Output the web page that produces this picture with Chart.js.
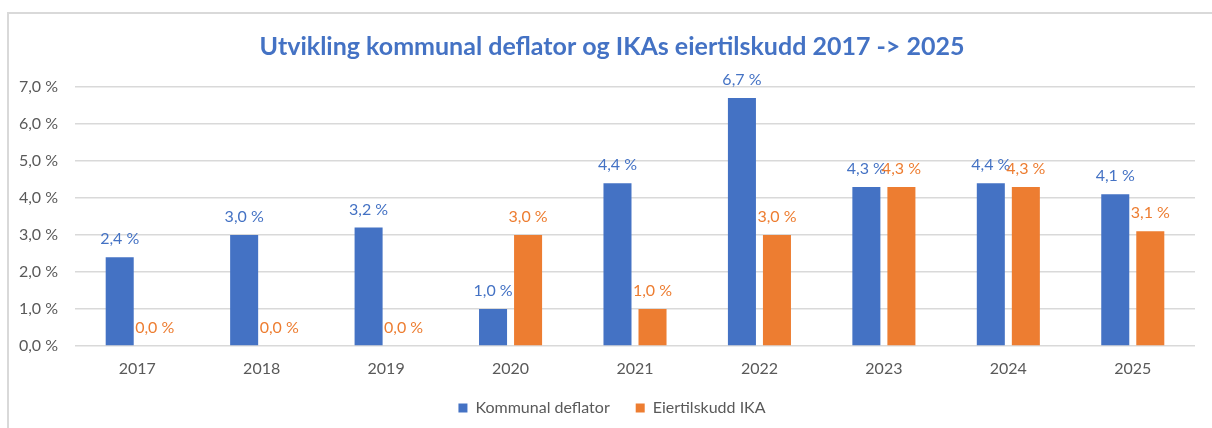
<!DOCTYPE html>
<html>
<head>
<meta charset="utf-8">
<script src="https://cdn.jsdelivr.net/npm/chart.js@4/dist/chart.umd.min.js"></script>
<style>
  html, body { margin: 0; padding: 0; background: #ffffff; overflow: hidden; }
  #frame { position: absolute; left: 7px; top: 12px; width: 1240px; height: 440px; border: 2px solid #d9d9d9; }
  #wrap { position: absolute; left: 0; top: 0; width: 1212px; height: 428px; overflow: hidden; }
</style>
</head>
<body>
<div id="frame"></div>
<div id="wrap"><canvas id="chart" width="1224" height="428"></canvas></div>
<script>
//-------------------------------------------------------------------
// data
//-------------------------------------------------------------------
const years = ['2017', '2018', '2019', '2020', '2021', '2022', '2023', '2024', '2025'];
const kommunalDeflator = [2.4, 3.0, 3.2, 1.0, 4.4, 6.7, 4.3, 4.4, 4.1];
const eiertilskuddIKA = [0.0, 0.0, 0.0, 3.0, 1.0, 3.0, 4.3, 4.3, 3.1];
const seriesNames = ['Kommunal deflator', 'Eiertilskudd IKA'];
const yTicks = [0, 1, 2, 3, 4, 5, 6, 7];

const BLUE = '#4472C4';
const ORANGE = '#ED7D31';
const GREY_TEXT = '#595959';
const FONT = 'Lato, "Open Sans", sans-serif';

//-------------------------------------------------------------------
// utility
//-------------------------------------------------------------------
function formatPct(val) {
  return Number(val).toFixed(1).replace('.', ',') + ' %';
}

// draws the value above each bar, in the colour of its series
const barValueLabels = {
  id: 'barValueLabels',
  afterDatasetsDraw(chart) {
    const ctx = chart.ctx;
    ctx.save();
    ctx.font = '16px ' + FONT;
    ctx.textAlign = 'center';
    ctx.textBaseline = 'middle';
    chart.data.datasets.forEach((ds, i) => {
      let meta = chart.getDatasetMeta(i);
      meta.data.forEach((bar, j) => {
        ctx.fillStyle = ds.backgroundColor;
        ctx.fillText(formatPct(ds.data[j]), bar.x, bar.y - 18);
      });
    });
    ctx.restore();
  }
};

//-------------------------------------------------------------------
// chart
//-------------------------------------------------------------------
const ctx = document.getElementById('chart').getContext('2d');

new Chart(ctx, {
  type: 'bar',
  data: {
    labels: years,
    datasets: [
      {
        label: seriesNames[0],
        data: kommunalDeflator,
        backgroundColor: BLUE,
        categoryPercentage: 0.563,
        barPercentage: 0.8
      },
      {
        label: seriesNames[1],
        data: eiertilskuddIKA,
        backgroundColor: ORANGE,
        categoryPercentage: 0.563,
        barPercentage: 0.8
      }
    ]
  },
  options: {
    responsive: false,
    animation: false,
    layout: { padding: { left: 0, right: 0, top: 0, bottom: 2 } },
    scales: {
      x: {
        grid: { display: false },
        border: { display: false },
        ticks: { color: GREY_TEXT, font: { family: FONT, size: 16 }, padding: 5 },
        afterFit: (scale) => { scale.height = 28; }
      },
      y: {
        min: 0,
        max: 7,
        afterBuildTicks: (scale) => { scale.ticks = yTicks.map(v => ({ value: v })); },
        grid: { color: '#d9d9d9', lineWidth: 1.5, drawTicks: false },
        border: { display: false },
        ticks: {
          color: GREY_TEXT,
          font: { family: FONT, size: 16 },
          padding: 17,
          callback: (val) => formatPct(val)
        },
        afterFit: (scale) => { scale.width = 75; }
      },
      // empty right-hand margin so the title centres like the original
      margin: {
        type: 'linear',
        position: 'right',
        grid: { display: false },
        border: { display: false },
        ticks: { display: false },
        afterFit: (scale) => { scale.width = 29; }
      }
    },
    plugins: {
      title: {
        display: true,
        text: 'Utvikling kommunal deflator og IKAs eiertilskudd 2017 -> 2025',
        color: BLUE,
        font: { family: FONT, size: 25, weight: 'bold' },
        padding: { top: 32, bottom: 25 }
      },
      legend: {
        position: 'bottom',
        labels: {
          color: GREY_TEXT,
          font: { family: FONT, size: 16 },
          boxWidth: 9,
          boxHeight: 9,
          padding: 26
        }
      },
      tooltip: { enabled: false }
    }
  },
  plugins: [barValueLabels]
});
</script>
</body>
</html>
